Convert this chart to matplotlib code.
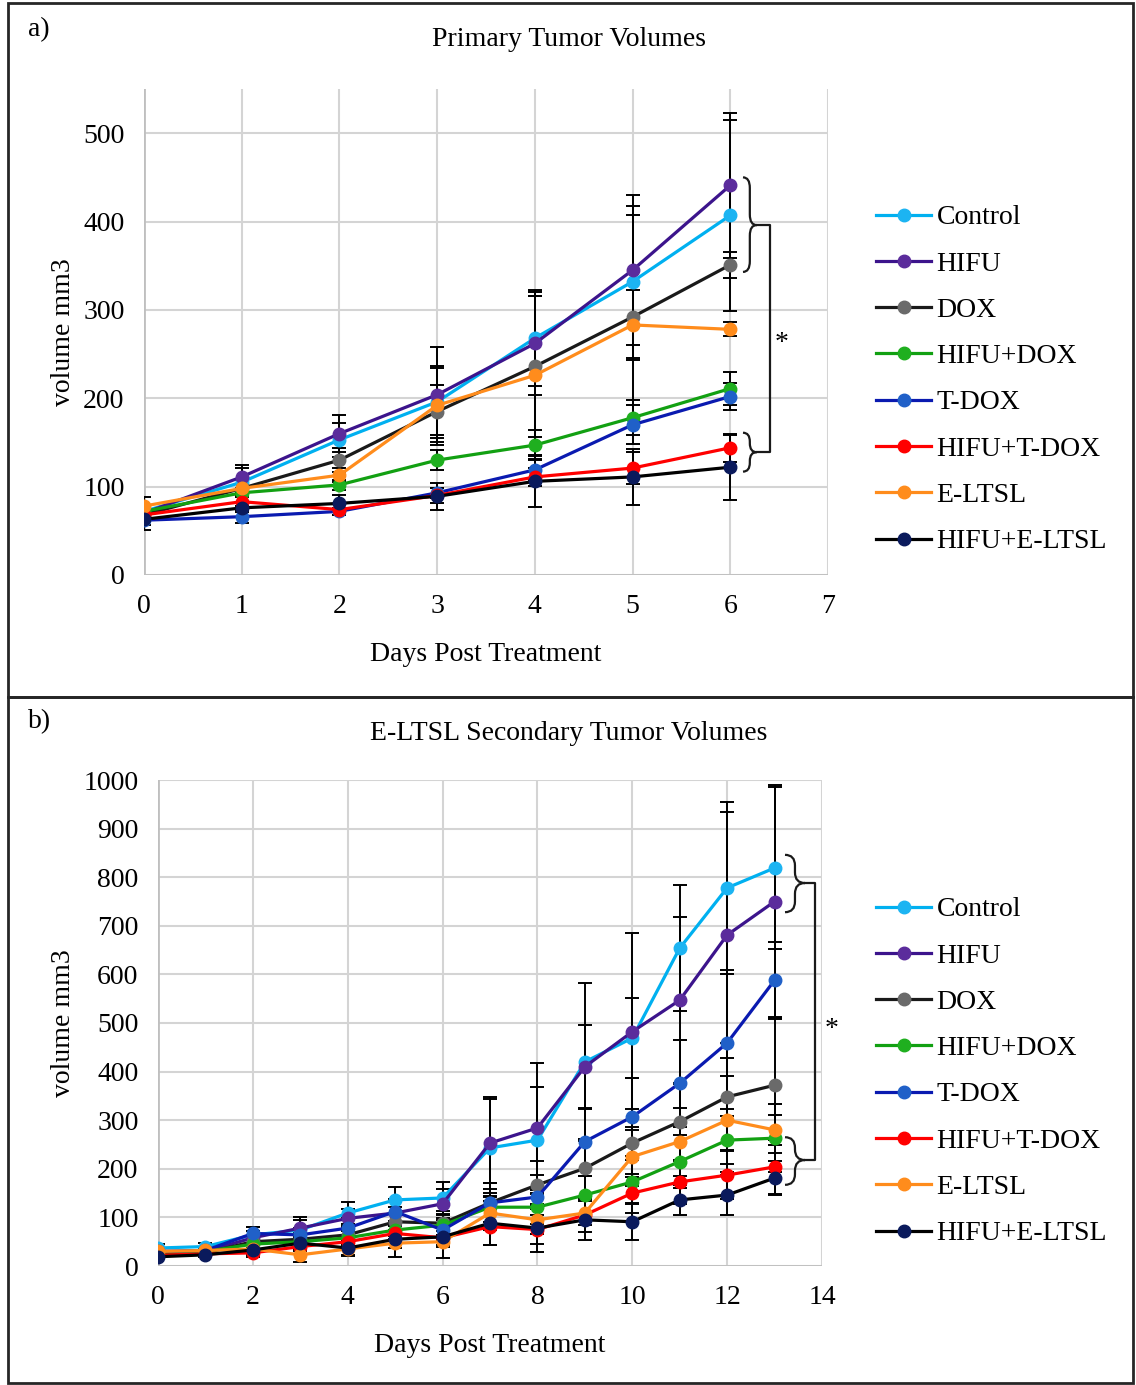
import numpy as np
import matplotlib.pyplot as plt
from matplotlib.path import Path
from matplotlib.patches import PathPatch, Rectangle

plt.rcParams['font.family'] = ['Liberation Serif', 'DejaVu Serif']

groups = ['Control', 'HIFU', 'DOX', 'HIFU+DOX', 'T-DOX', 'HIFU+T-DOX', 'E-LTSL', 'HIFU+E-LTSL']
line_colors = ['#00B0F0', '#3C148C', '#1A1A1A', '#12A012', '#0A1AB0', '#FF0000', '#FF8C1C', '#000000']
marker_colors = ['#1CB4F2', '#5B2C9C', '#6A6A6A', '#1FAF1F', '#2060C8', '#FF0000', '#FF8C1C', '#0A1A5C']

# a) primary tumor, days 0-6
days_a = [0, 1, 2, 3, 4, 5, 6]
vol_a = {
    'Control':     [72, 105, 153, 196, 268, 332, 407],
    'HIFU':        [70, 111, 160, 204, 262, 345, 441],
    'DOX':         [68, 98, 130, 185, 236, 292, 351],
    'HIFU+DOX':    [72, 93, 102, 130, 147, 178, 211],
    'T-DOX':       [62, 66, 72, 93, 119, 170, 202],
    'HIFU+T-DOX':  [68, 83, 74, 90, 111, 121, 144],
    'E-LTSL':      [78, 98, 113, 192, 226, 283, 278],
    'HIFU+E-LTSL': [63, 76, 81, 89, 106, 111, 122],
}
err_a = {
    'Control':     [5, 16, 19, 38, 54, 86, 108],
    'HIFU':        [5, 13, 21, 54, 58, 85, 82],
    'DOX':         [5, 5, 14, 30, 80, 115, 15],
    'HIFU+DOX':    [5, 5, 6, 11, 17, 20, 19],
    'T-DOX':       [5, 7, 4, 6, 12, 22, 15],
    'HIFU+T-DOX':  [5, 5, 6, 8, 10, 18, 16],
    'E-LTSL':      [10, 5, 8, 45, 90, 40, 8],
    'HIFU+E-LTSL': [12, 5, 9, 15, 29, 32, 37],
}

# b) secondary tumor, days 0-13
days_b = list(range(14))
vol_b = {
    'Control':     [37, 40, 64, 74, 109, 136, 140, 243, 259, 420, 469, 654, 778, 819],
    'HIFU':        [28, 30, 58, 78, 98, 109, 128, 253, 284, 410, 482, 547, 681, 750],
    'DOX':         [25, 27, 50, 55, 64, 91, 88, 130, 167, 201, 253, 297, 348, 372],
    'HIFU+DOX':    [28, 30, 45, 50, 58, 74, 84, 121, 121, 146, 173, 215, 259, 263],
    'T-DOX':       [30, 32, 67, 64, 78, 112, 74, 130, 142, 256, 307, 376, 459, 588],
    'HIFU+T-DOX':  [22, 25, 27, 40, 50, 67, 58, 81, 75, 105, 150, 173, 187, 204],
    'E-LTSL':      [30, 32, 35, 23, 35, 47, 50, 109, 95, 109, 225, 256, 300, 280],
    'HIFU+E-LTSL': [19, 23, 33, 47, 37, 55, 60, 88, 78, 95, 91, 136, 146, 181],
}
err_b = {
    'Control':     [8, 8, 17, 20, 23, 27, 33, 100, 110, 162, 82, 130, 177, 167],
    'HIFU':        [8, 8, 15, 23, 20, 25, 30, 95, 134, 86, 203, 172, 254, 240],
    'DOX':         [6, 6, 12, 15, 18, 30, 25, 40, 50, 60, 70, 80, 110, 140],
    'HIFU+DOX':    [6, 6, 10, 12, 14, 18, 20, 30, 35, 40, 45, 55, 65, 70],
    'T-DOX':       [6, 6, 14, 14, 20, 25, 20, 40, 45, 70, 80, 90, 150, 79],
    'HIFU+T-DOX':  [5, 5, 8, 10, 12, 15, 15, 38, 30, 35, 40, 45, 50, 55],
    'E-LTSL':      [6, 6, 10, 15, 15, 28, 34, 35, 30, 25, 60, 70, 90, 30],
    'HIFU+E-LTSL': [5, 5, 10, 12, 15, 18, 20, 45, 49, 42, 38, 31, 41, 35],
}

FS = 20


def brace(ax, x0, w, y0, y1, ym, r):
    # right-facing curly brace from y0 (bottom) to y1 (top), tip at ym
    xm = x0 + w / 2
    verts = [(x0, y1), (xm, y1), (xm, y1 - r),
             (xm, ym + r), (xm, ym), (x0 + w, ym),
             (xm, ym), (xm, ym - r),
             (xm, y0 + r), (xm, y0), (x0, y0)]
    codes = [Path.MOVETO, Path.CURVE3, Path.CURVE3,
             Path.LINETO, Path.CURVE3, Path.CURVE3,
             Path.CURVE3, Path.CURVE3,
             Path.LINETO, Path.CURVE3, Path.CURVE3]
    ax.add_patch(PathPatch(Path(verts, codes), fill=False, lw=1.6,
                           edgecolor='#1A1A1A', clip_on=False, zorder=5))


def draw_panel(ax, days, vols, errs):
    for i, g in enumerate(groups):
        ax.errorbar(days, vols[g], yerr=errs[g], fmt='none', ecolor='black',
                    elinewidth=1.4, capsize=5, capthick=1.4, zorder=2)
    for i, g in enumerate(groups):
        ax.plot(days, vols[g], color=line_colors[i], lw=2.3, marker='o', ms=9,
                mfc=marker_colors[i], mec=marker_colors[i], label=g, zorder=3)
    for s in ax.spines.values():
        s.set_visible(False)
    ax.grid(True, color='#D4D4D4', lw=1.5)
    ax.set_axisbelow(True)
    ax.tick_params(length=0, labelsize=FS, pad=14)
    ax.set_ylabel('volume mm3', fontsize=FS, labelpad=5)
    ax.set_xlabel('Days Post Treatment', fontsize=FS, labelpad=16)


fig = plt.figure(figsize=(11.36, 13.85), dpi=100)

ax1 = fig.add_axes([144 / 1136, 1 - 575 / 1385, 684 / 1136, 486 / 1385])
draw_panel(ax1, days_a, vol_a, err_a)
ax1.set_xlim(0, 7)
ax1.set_ylim(0, 550)
ax1.set_xticks(range(0, 8))
ax1.set_yticks(range(0, 501, 100))
ax1.axhline(0, color='#BFBFBF', lw=2, zorder=1)
ax1.axvline(0, color='#BFBFBF', lw=2, zorder=1)
brace(ax1, 6.13, 0.14, 343, 450, 396, 12)
brace(ax1, 6.13, 0.14, 117, 161, 139, 10)
ax1.plot([6.27, 6.41, 6.41, 6.27], [396, 396, 139, 139], color='#1A1A1A',
         lw=1.6, clip_on=False, zorder=5)
ax1.text(6.53, 262, '*', fontsize=FS, ha='center', va='center')
ax1.legend(loc='upper left', bbox_to_anchor=(862 / 1136, 1 - 191 / 1385),
           bbox_transform=fig.transFigure, frameon=False, fontsize=FS,
           handlelength=2.0, handletextpad=0.18, labelspacing=0.75, borderpad=0)

ax2 = fig.add_axes([158 / 1136, 1 - 1266 / 1385, 664 / 1136, 486 / 1385])
draw_panel(ax2, days_b, vol_b, err_b)
ax2.set_xlim(0, 14)
ax2.set_ylim(0, 1000)
ax2.set_xticks(range(0, 15, 2))
ax2.set_yticks(range(0, 1001, 100))
ax2.axhline(0, color='#BFBFBF', lw=2, zorder=1)
ax2.axvline(0, color='#BFBFBF', lw=2, zorder=1)
brace(ax2, 13.22, 0.42, 728, 846, 788, 22)
brace(ax2, 13.22, 0.42, 167, 265, 218, 22)
ax2.plot([13.64, 13.85, 13.85, 13.64], [788, 788, 218, 218], color='#1A1A1A',
         lw=1.6, clip_on=False, zorder=5)
ax2.text(14.21, 486, '*', fontsize=FS, ha='center', va='center', clip_on=False)
ax2.legend(loc='upper left', bbox_to_anchor=(862 / 1136, 1 - 883 / 1385),
           bbox_transform=fig.transFigure, frameon=False, fontsize=FS,
           handlelength=2.0, handletextpad=0.18, labelspacing=0.75, borderpad=0)

# panel frames and labels
for top, bot in [(3, 697), (697, 1383)]:
    fig.add_artist(Rectangle((8 / 1136, 1 - bot / 1385), 1125 / 1136, (bot - top) / 1385,
                             transform=fig.transFigure, fill=False,
                             edgecolor='#262626', lw=2))
fig.text(28 / 1136, 1 - 30 / 1385, 'a)', fontsize=FS, ha='left', va='center')
fig.text(28 / 1136, 1 - 722 / 1385, 'b)', fontsize=FS, ha='left', va='center')
fig.text(569 / 1136, 1 - 40 / 1385, 'Primary Tumor Volumes', fontsize=FS,
         ha='center', va='center')
fig.text(569 / 1136, 1 - 733 / 1385, 'E-LTSL Secondary Tumor Volumes', fontsize=FS,
         ha='center', va='center')

fig.savefig('out.png', dpi=100)
